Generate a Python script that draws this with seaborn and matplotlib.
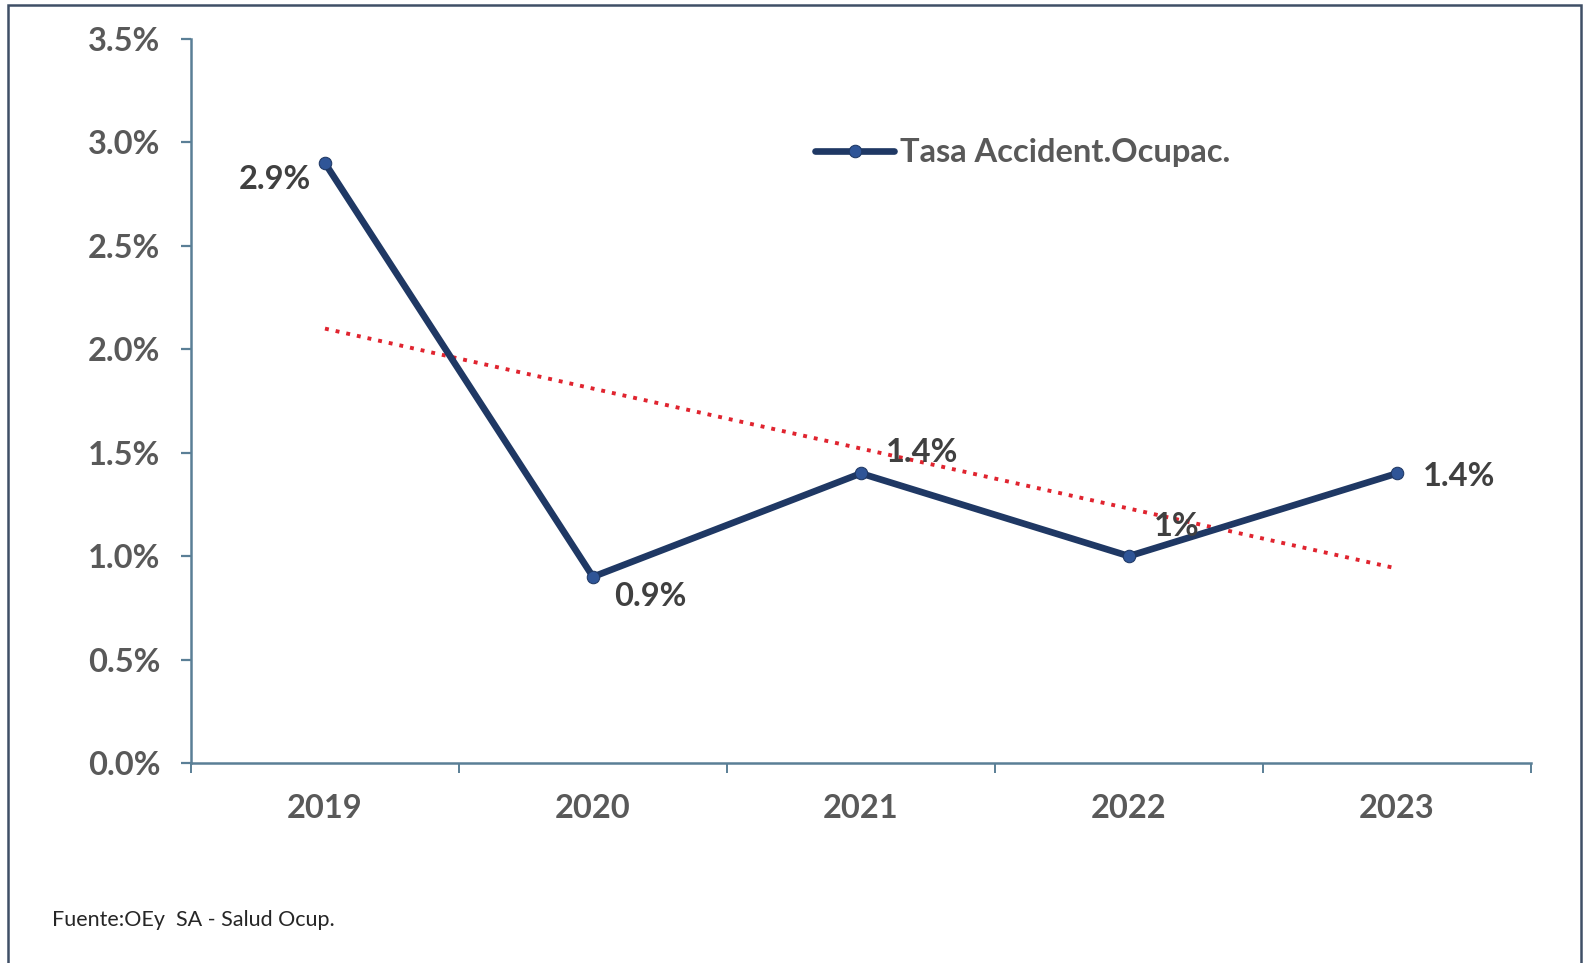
import numpy as np
import pandas as pd
import matplotlib
matplotlib.use("Agg")
import matplotlib.pyplot as plt
import seaborn as sns
from matplotlib.patches import Rectangle
from matplotlib.ticker import FuncFormatter, MultipleLocator

# ---------------------------------------------------------------------------
# Data
# ---------------------------------------------------------------------------
years = ["2019", "2020", "2021", "2022", "2023"]
tasa = [2.9, 0.9, 1.4, 1.0, 1.4]
point_labels = ["2.9%", "0.9%", "1.4%", "1%", "1.4%"]
series_name = "Tasa Accident.Ocupac."
source_note = "Fuente:OEy  SA - Salud Ocup."

# label offsets (points) relative to each point
label_offsets = [(-36, -12), (41, -14), (44, 15), (34, 21), (45, -2)]

NAVY = "#1F3864"
RED = "#E0242F"
GREY = "#595959"
AXIS = "#5A7F96"

sns.set_theme(style="white")
plt.rcParams["font.family"] = ["Lato", "DejaVu Sans"]

df = pd.DataFrame({"x": np.arange(len(years)), "tasa": tasa})
slope, intercept = np.polyfit(df["x"], df["tasa"], 1)
df["trend"] = intercept + slope * df["x"]

fig = plt.figure(figsize=(15.85, 9.63), dpi=100)
ax = fig.add_axes([0.1205, 0.2077, 0.8454, 0.7518])

sns.lineplot(data=df, x="x", y="trend", ax=ax, color=RED, linestyle=(0, (1, 1.8)),
             linewidth=2.8, label="_trend")
sns.lineplot(data=df, x="x", y="tasa", ax=ax, color=NAVY, linewidth=4.8,
             marker="o", markersize=9, markeredgecolor=NAVY,
             markerfacecolor="#2F5597", label=series_name)

for xi, yi, txt, (dx, dy) in zip(df["x"], df["tasa"], point_labels, label_offsets):
    ax.annotate(txt, (xi, yi), xytext=(dx, dy), textcoords="offset points",
                ha="center", va="center", fontsize=23.5, fontweight="bold",
                color="#404040")

ax.set_xlim(-0.5, len(years) - 0.5)
ax.set_ylim(0, 3.5)
ax.yaxis.set_major_locator(MultipleLocator(0.5))
ax.yaxis.set_major_formatter(FuncFormatter(lambda v, p: f"{v:.1f}%"))
ax.set_xticks(df["x"])
ax.set_xticklabels(years)
ax.set_xticks(np.arange(-0.5, len(years)), minor=True)
ax.set_xlabel("")
ax.set_ylabel("")

for side in ["top", "right"]:
    ax.spines[side].set_visible(False)
for side in ["left", "bottom"]:
    ax.spines[side].set_color(AXIS)
    ax.spines[side].set_linewidth(1.8)

ax.tick_params(axis="y", which="major", direction="out", length=7, width=1.6,
               color=AXIS, left=True, pad=15, labelsize=23.5, labelcolor=GREY)
ax.tick_params(axis="x", which="major", length=0, pad=22, labelsize=23.5,
               labelcolor=GREY)
ax.tick_params(axis="x", which="minor", direction="out", length=7, width=1.4,
               color=AXIS, bottom=True)
for lbl in ax.get_xticklabels() + ax.get_yticklabels():
    lbl.set_fontweight("bold")

leg = ax.legend(loc="center left", bbox_to_anchor=(0.466, 0.843), frameon=False,
                fontsize=23.5, handlelength=2.4, handletextpad=0.2,
                borderpad=0, borderaxespad=0)
for t in leg.get_texts():
    t.set_color(GREY)
    t.set_fontweight("bold")

fig.text(52 / 1585, 1 - 920 / 963, source_note, fontsize=15.5, color="#262626",
         va="center", ha="left")

# outer frame
fig.patches.append(Rectangle((8 / 1585, -0.05), (1581 - 8) / 1585, 1.05 - 5 / 963,
                             transform=fig.transFigure, fill=False,
                             edgecolor="#3F4F66", linewidth=1.8))

fig.savefig("out.png", dpi=100)
plt.close(fig)
